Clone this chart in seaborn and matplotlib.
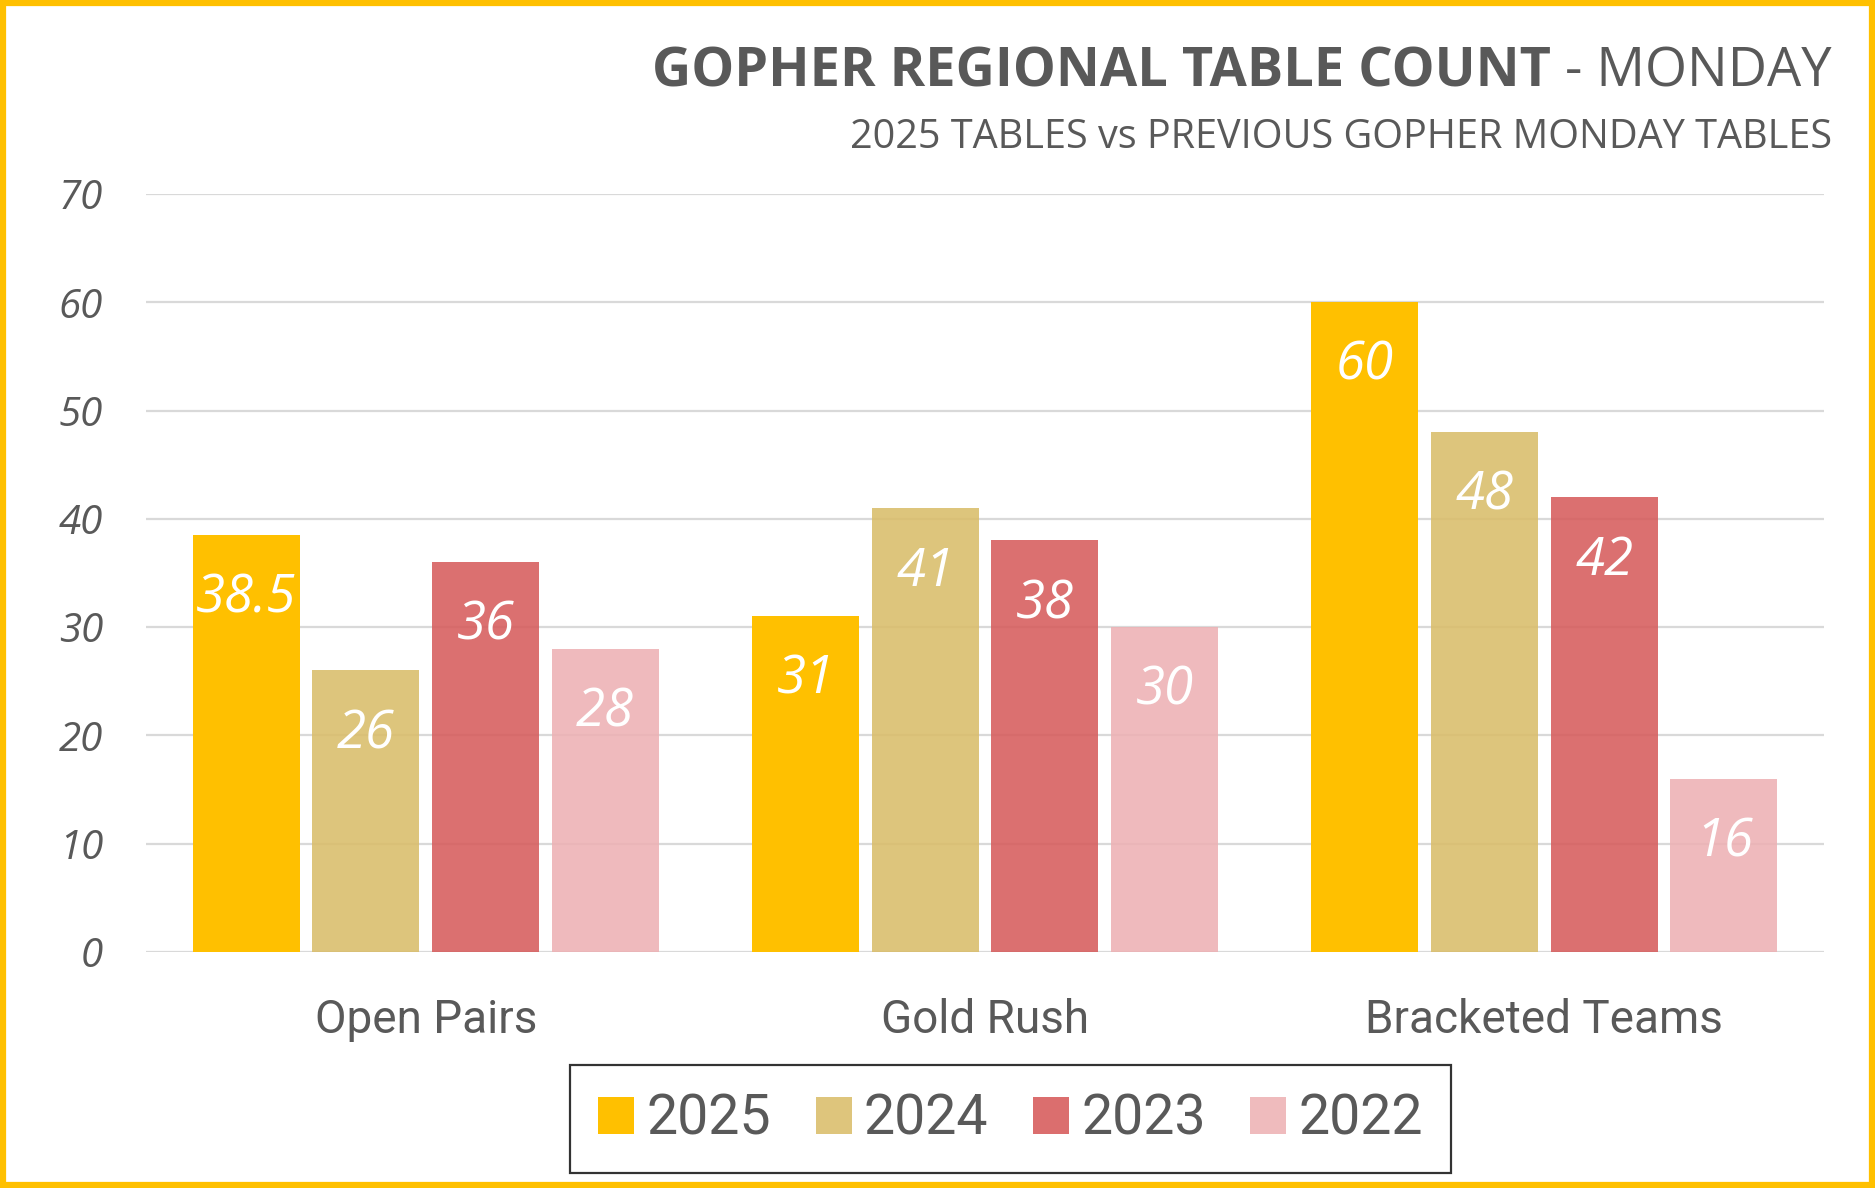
import matplotlib
matplotlib.use('Agg')
import matplotlib.pyplot as plt
from matplotlib.patches import Patch, Rectangle
import seaborn as sns
import pandas as pd

# 데이터
events = ['Open Pairs', 'Gold Rush', 'Bracketed Teams']
years = ['2025', '2024', '2023', '2022']
tables_2025 = [38.5, 31, 60]
tables_2024 = [26, 41, 48]
tables_2023 = [36, 38, 42]
tables_2022 = [28, 30, 16]

# 보이는 색 (범례용) / 막대는 약간 투명
shown_colors = ['#FFC000', '#DEC57C', '#DB6E6E', '#EFBBBD']
bar_colors = ['#FFC000', '#D9BD6A', '#D65C5C', '#EDB1B4']
bar_alpha = [1.0, 0.88, 0.88, 0.88]
text_gray = '#595959'

df = pd.DataFrame({
    'event': events * 4,
    'year': [y for y in years for _ in events],
    'tables': tables_2025 + tables_2024 + tables_2023 + tables_2022,
})

sns.set_theme(style='white')
plt.rcParams['font.family'] = ['Roboto', 'DejaVu Sans']

fig = plt.figure(figsize=(18.75, 11.88), dpi=100)
ax = fig.add_axes([0.0779, 0.1987, 0.8949, 0.6380])

sns.barplot(data=df, x='event', y='tables', hue='year', hue_order=years,
            order=events, palette=bar_colors, width=0.856, gap=0.107,
            saturation=1, legend=False, ax=ax)

for cont, a in zip(ax.containers, bar_alpha):
    for p in cont:
        p.set_alpha(a)
        p.set_edgecolor('none')
        ax.annotate(f'{p.get_height():g}',
                    xy=(p.get_x() + p.get_width() / 2, p.get_height()),
                    xytext=(0, -46), textcoords='offset points',
                    ha='center', va='center', color='white', fontsize=38,
                    fontstyle='italic', family=['Open Sans', 'DejaVu Sans'])

ax.set_ylim(0, 70)
ax.set_xlim(-0.5, 2.5)
ax.set_yticks(range(0, 71, 10))
ax.set_axisbelow(True)
ax.yaxis.grid(True, color='#D9D9D9', linewidth=1.6)
ax.xaxis.grid(False)
sns.despine(ax=ax, left=True, bottom=True)
ax.set_xlabel('')
ax.set_ylabel('')
ax.tick_params(axis='y', length=0, pad=31, labelsize=29, labelcolor=text_gray)
ax.tick_params(axis='x', length=0, pad=33, labelsize=33, labelcolor=text_gray)
for t in ax.get_yticklabels():
    t.set_fontstyle('italic')
    t.set_family(['Open Sans', 'DejaVu Sans'])

# 제목
t2 = fig.text(0.977, 0.9268, ' - MONDAY', ha='right', va='baseline',
              fontsize=39, color=text_gray, family=['Open Sans', 'DejaVu Sans'])
ax.annotate('GOPHER REGIONAL TABLE COUNT', xy=(0, 0), xycoords=t2,
            ha='right', va='bottom', fontsize=39, fontweight='bold',
            color=text_gray, family=['Open Sans', 'DejaVu Sans'],
            annotation_clip=False)
fig.text(0.977, 0.8754, '2025 TABLES vs PREVIOUS GOPHER MONDAY TABLES',
         ha='right', va='baseline', fontsize=28.5, color=text_gray,
         family=['Open Sans', 'DejaVu Sans'])

# 범례
handles = [Patch(facecolor=c, edgecolor='none', label=y)
           for c, y in zip(shown_colors, years)]
leg = fig.legend(handles=handles, loc='center', bbox_to_anchor=(0.539, 0.058),
                 ncol=4, fontsize=40, frameon=True, fancybox=False,
                 handlelength=0.65, handleheight=0.65, handletextpad=0.22,
                 columnspacing=0.8, borderpad=0.5, borderaxespad=0)
leg.get_frame().set_edgecolor('black')
leg.get_frame().set_linewidth(1.6)
for t in leg.get_texts():
    t.set_color(text_gray)

# 테두리
fig.patches.append(Rectangle((0.0015, 0.0025), 0.997, 0.995, transform=fig.transFigure,
                             fill=False, edgecolor='#FFC000', linewidth=4.5))

fig.savefig('out.png', dpi=100)
